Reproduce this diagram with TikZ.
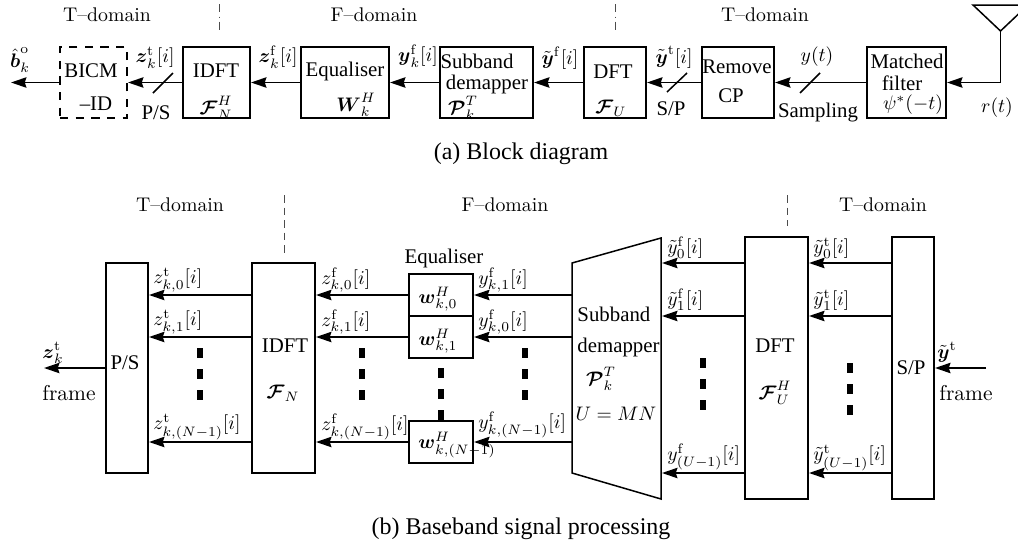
\documentclass[tikz,border=0pt]{standalone}
\usepackage{amsmath}
\usepackage[no-math]{fontspec}
\newfontfamily\tm{Liberation Serif}
\usetikzlibrary{arrows.meta,shapes.geometric}
\tikzset{
  ln/.style={line width=0.72pt},
  arr/.style={ln,-{Stealth[length=7.4pt,width=5pt,inset=0.8pt]},shorten >=0.5pt},
  box/.style={draw,ln,inner sep=0,outer sep=0,minimum width=#1*0.48pt},
  tall/.style={minimum height=#1*0.48pt},
  dbox/.style={draw,dashed,dash pattern=on 4pt off 3.5pt,ln,inner sep=0,outer sep=0,minimum width=#1*0.48pt},
  ttl/.style={inner sep=0,font=\fontsize{9.5}{11}\selectfont},
  tx/.style={inner sep=0,font=\tm\fontsize{10}{12}\selectfont},
  captxt/.style={inner sep=0,font=\tm\fontsize{11.5}{13}\selectfont},
  cmt/.style={inner sep=0,font=\fontsize{10.3}{12}\selectfont},
  ml/.style={inner sep=0,scale=0.94},
  lw/.style={inner sep=0,anchor=west,scale=0.94},
  dots/.style={line width=2.7pt,dash pattern=on 4.8pt off 5.3pt},
  sep/.style={line width=0.4pt,color=black!70,dash pattern=on 3.6pt off 2.4pt},
  sepd/.style={line width=0.4pt,color=black!70,dash pattern=on 4pt off 2pt on 0.5pt off 2pt},
}
\newcommand{\bz}{\boldsymbol{z}}
\newcommand{\by}{\boldsymbol{y}}
\newcommand{\bty}{\tilde{\boldsymbol{y}}}
\newcommand{\rmf}{\mathrm{f}}
\newcommand{\rmt}{\mathrm{t}}
\newcommand{\bcal}[1]{\boldsymbol{\mathcal{#1}}}
\begin{document}
\begin{tikzpicture}[x=0.48pt,y=-0.48pt]
\path[use as bounding box] (0,0) rectangle (1018,546);
\clip (0,0) rectangle (1018,546);
% ---------- top row ----------
\node[dbox=67,tall=71] (bicm) at (93.5,82.5) {};
\node[box=67,tall=71] (idft) at (216.5,82.5) {};
\node[box=88,tall=71] (eq) at (345,82.5) {};
\node[box=93,tall=71] (sub) at (486.5,82.5) {};
\node[box=62,tall=71] (dft) at (615,82.5) {};
\node[box=72,tall=71] (rcp) at (738,82.5) {};
\node[box=79,tall=71] (mf) at (906.5,82.5) {};
\coordinate (ant) at (1000.5,31);
\coordinate (antl) at (973,5);
\coordinate (antr) at (1028,5);
\coordinate (out) at (10,82.5);
\draw[ln] (ant) -- (antl) -- (antr) -- cycle;
\draw[arr] (ant) |- (mf.east);
\draw[arr] (mf.west) -- (rcp.east);
\draw[arr] (rcp.west) -- (dft.east);
\draw[arr] (dft.west) -- (sub.east);
\draw[arr] (sub.west) -- (eq.east);
\draw[arr] (eq.west) -- (idft.east);
\draw[arr] (idft.west) -- (bicm.east);
\draw[arr] (bicm.west) -- (out);
\coordinate (t1a) at (153,93); \coordinate (t1b) at (173,73);
\coordinate (t2a) at (667,92); \coordinate (t2b) at (687,73);
\coordinate (t3a) at (800,93); \coordinate (t3b) at (820,73);
\draw[ln] (t1a) -- (t1b);
\draw[ln] (t2a) -- (t2b);
\draw[ln] (t3a) -- (t3b);
\coordinate (s1a) at (219,4); \coordinate (s1b) at (219,31);
\coordinate (s2a) at (615,4); \coordinate (s2b) at (615,31);
\draw[sepd] (s1a) -- (s1b);
\draw[sepd] (s2a) -- (s2b);
\node[ttl] (ta) at (107,15) {T--domain};
\node[ttl] (tb) at (374,15) {F--domain};
\node[ttl] (tc) at (765,15) {T--domain};
\node[ml] (l1) at (20,60) {$\hat{\boldsymbol{b}}_k^{\mathrm{o}}$};
\node[tx] (l2) at (91,71) {BICM};
\node[tx] (l3) at (96,104) {–ID};
\node[ml] (l4) at (155,58) {$\bz_k^\rmt[i]$};
\node[tx] (l5) at (156,113) {P/S};
\node[tx] (l6) at (216,71) {IDFT};
\node[ml] (l7) at (216,108) {$\bcal{F}_N^H$};
\node[ml] (l8) at (278,57) {$\bz_k^\rmf[i]$};
\node[tx] (l9) at (345,71) {Equaliser};
\node[ml] (l10) at (356,105) {$\boldsymbol{W}_k^H$};
\node[ml] (l11) at (418,56) {$\by_k^\rmf[i]$};
\node[tx] (l12) at (477,61) {Subband};
\node[tx] (l13) at (487,84) {demapper};
\node[ml] (l14) at (463,108) {$\bcal{P}_k^T$};
\node[ml] (l15) at (560,58) {$\bty^\rmf[i]$};
\node[tx] (l16) at (613,72) {DFT};
\node[ml] (l17) at (611,108) {$\bcal{F}_U$};
\node[ml] (l18) at (674,57) {$\bty^\rmt[i]$};
\node[tx] (l19) at (671,109) {S/P};
\node[tx] (l20) at (737,67) {Remove};
\node[tx] (l21) at (731,96) {CP};
\node[ml] (l22) at (817,57) {$y(t)$};
\node[tx] (l23) at (818,113) {Sampling};
\node[tx] (l24) at (907,61) {Matched};
\node[tx] (l25) at (902,83) {filter};
\node[ml] (l26) at (913,105) {$\psi^*(-t)$};
\node[ml] (l27) at (997,108) {$r(t)$};
\node[captxt] (capa) at (521,154) {(a) Block diagram};
% ---------- bottom ----------
\coordinate (ra) at (0,295); \coordinate (rb) at (0,337); \coordinate (rc) at (0,442);
\coordinate (qa) at (0,263); \coordinate (qb) at (0,316); \coordinate (qc) at (0,473);
\node[box=42,tall=210] (ps) at (127,368) {};
\node[box=63,tall=210] (idftb) at (283.5,368) {};
\node[box=64,tall=42,anchor=north] (w0) at (441,274) {};
\node[box=64,tall=42,anchor=north] (w1) at (441,316) {};
\node[box=64,tall=42,anchor=north] (w2) at (441,421) {};
\node[box=63,tall=262] (dftb) at (776.5,368) {};
\node[box=42,tall=262] (sp) at (913,368) {};
\coordinate (tl) at (572,263); \coordinate (tr) at (661,238);
\coordinate (bl) at (572,473); \coordinate (br) at (661,499);
\draw[ln] (tl) -- (tr) -- (br) -- (bl) -- cycle;
\coordinate (outb) at (43,368); \coordinate (inb) at (986,368);
\draw[arr] (ps.west) -- (outb);
\draw[arr] (inb) -- (sp.east);
\foreach \r in {ra,rb,rc}{
  \draw[arr] (idftb.west |- \r) -- (ps.east |- \r);
  \draw[arr] (tl |- \r) -- (w0.east |- \r);
}
\draw[arr] (w0.west |- ra) -- (idftb.east |- ra);
\draw[arr] (w1.west |- rb) -- (idftb.east |- rb);
\draw[arr] (w2.west |- rc) -- (idftb.east |- rc);
\draw[arr] (dftb.west |- qa) -- (tr |- qa);
\draw[arr] (dftb.west |- qb) -- (tr |- qb);
\draw[arr] (dftb.west |- qc) -- (tr |- qc);
\draw[arr] (sp.west |- qa) -- (dftb.east |- qa);
\draw[arr] (sp.west |- qb) -- (dftb.east |- qb);
\draw[arr] (sp.west |- qc) -- (dftb.east |- qc);
% dots
\coordinate (d1a) at (200,348); \coordinate (d1b) at (200,400);
\coordinate (d2a) at (362,348); \coordinate (d2b) at (362,400);
\coordinate (d3a) at (441,368); \coordinate (d3b) at (441,421);
\coordinate (d4a) at (525,348); \coordinate (d4b) at (525,400);
\coordinate (d5a) at (703,358); \coordinate (d5b) at (703,410);
\coordinate (d6a) at (850,363); \coordinate (d6b) at (850,415);
\foreach \p/\q in {d1a/d1b,d2a/d2b,d3a/d3b,d4a/d4b,d5a/d5b,d6a/d6b}{\draw[dots] (\p) -- (\q);}
\coordinate (s3a) at (284,195); \coordinate (s3b) at (284,253);
\coordinate (s4a) at (787,195); \coordinate (s4b) at (787,226);
\draw[sep] (s3a) -- (s3b);
\draw[sep] (s4a) -- (s4b);
\node[ttl] (td) at (180,205) {T--domain};
\node[ttl] (te) at (505,205) {F--domain};
\node[ttl] (tf) at (883,205) {T--domain};
\node[tx] (m1) at (125,363) {P/S};
\node[cmt] (m2) at (69,393) {frame};
\node[ml] (m3) at (53,353) {$\bz_k^\rmt$};
\node[lw] (m4) at (153,280) {$z_{k,0}^\rmt[i]$};
\node[lw] (m5) at (153,322) {$z_{k,1}^\rmt[i]$};
\node[lw] (m6) at (153,427) {$z_{k,(N-1)}^\rmt[i]$};
\node[tx] (m7) at (285,346) {IDFT};
\node[ml] (m8) at (283,393) {$\bcal{F}_N$};
\node[lw] (m9) at (321,280) {$z_{k,0}^\rmf[i]$};
\node[lw] (m10) at (321,322) {$z_{k,1}^\rmf[i]$};
\node[lw] (m11) at (321,427) {$z_{k,(N-1)}^\rmf[i]$};
\node[tx] (m12) at (444,258) {Equaliser};
\node[ml] (m13) at (438,299) {$\boldsymbol{w}_{k,0}^H$};
\node[ml] (m14) at (438,341) {$\boldsymbol{w}_{k,1}^H$};
\node[ml] (m15) at (457,445) {$\boldsymbol{w}_{k,(N-1)}^H$};
\node[lw] (m16) at (478,280) {$y_{k,1}^\rmf[i]$};
\node[lw] (m17) at (478,322) {$y_{k,0}^\rmf[i]$};
\node[lw] (m18) at (478,425) {$y_{k,(N-1)}^\rmf[i]$};
\node[tx,anchor=west] (m19) at (577,314) {Subband};
\node[tx,anchor=west] (m20) at (577,347) {demapper};
\node[ml] (m21) at (601,379) {$\bcal{P}_k^T$};
\node[ml] (m22) at (616,414) {$U=MN$};
\node[lw] (m23) at (667,248) {$\tilde{y}_0^\rmf[i]$};
\node[lw] (m24) at (667,300) {$\tilde{y}_1^\rmf[i]$};
\node[lw] (m25) at (667,457) {$y_{(U-1)}^\rmf[i]$};
\node[tx] (m26) at (775,346) {DFT};
\node[ml] (m27) at (775,393) {$\bcal{F}_U^H$};
\node[lw] (m28) at (813,248) {$\tilde{y}_0^\rmt[i]$};
\node[lw] (m29) at (813,300) {$\tilde{y}_1^\rmt[i]$};
\node[lw] (m30) at (813,458) {$\tilde{y}_{(U-1)}^\rmt[i]$};
\node[tx] (m31) at (911,368) {S/P};
\node[ml] (m32) at (947,352) {$\bty^\rmt$};
\node[cmt] (m33) at (966,393) {frame};
\node[captxt] (capb) at (521,529) {(b) Baseband signal processing};
\end{tikzpicture}
\end{document}
